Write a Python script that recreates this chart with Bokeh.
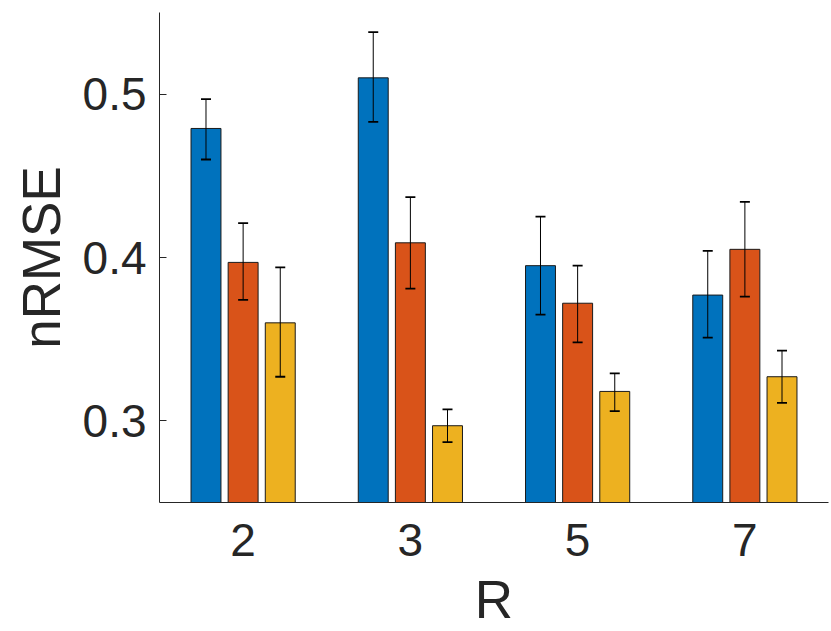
from bokeh.plotting import figure
from bokeh.models import ColumnDataSource, FixedTicker, Range1d
from bokeh.embed import file_html
from bokeh.resources import INLINE

categories = ["2", "3", "5", "7"]
series_names = ["A", "B", "C"]
colors = ["#0072BD", "#D95319", "#EDB120"]

means_a = [0.479, 0.510, 0.395, 0.377]
lower_a = [0.460, 0.483, 0.365, 0.351]
upper_a = [0.497, 0.538, 0.425, 0.404]

means_b = [0.397, 0.409, 0.372, 0.405]
lower_b = [0.374, 0.381, 0.348, 0.376]
upper_b = [0.421, 0.437, 0.395, 0.434]

means_c = [0.360, 0.297, 0.318, 0.327]
lower_c = [0.327, 0.287, 0.306, 0.311]
upper_c = [0.394, 0.307, 0.329, 0.343]

y_ticks = [0.3, 0.4, 0.5]

series = [(means_a, lower_a, upper_a), (means_b, lower_b, upper_b), (means_c, lower_c, upper_c)]
offsets = [-0.222, 0.0, 0.222]
bar_w = 0.179

p = figure(width=831, height=631, output_backend="svg", toolbar_location=None,
           x_range=Range1d(0.5, 4.5), y_range=Range1d(0.25, 0.55),
           min_border_left=159, min_border_right=3, min_border_top=12, min_border_bottom=129)

txt = "#262626"
font = "Liberation Sans"

sources = []
for (m, lo, hi), off, col in zip(series, offsets, colors):
    xs = [i + 1 + off for i in range(len(categories))]
    src = ColumnDataSource(dict(x=xs, top=m, lower=lo, upper=hi))
    sources.append(src)
    p.vbar(x="x", top="top", bottom=0.25, width=bar_w, source=src,
           fill_color=col, line_color="#1a1a1a", line_width=1)

for src in sources:
    p.segment(x0="x", y0="lower", x1="x", y1="upper", source=src,
              line_color="black", line_width=1)
    p.scatter(x="x", y="lower", source=src, marker="dash", size=10,
              line_color="black", line_width=1.8)
    p.scatter(x="x", y="upper", source=src, marker="dash", size=10,
              line_color="black", line_width=1.8)

p.xgrid.visible = False
p.ygrid.visible = False
p.outline_line_color = None

p.xaxis.ticker = FixedTicker(ticks=[1, 2, 3, 4])
p.xaxis.major_label_overrides = {i + 1: c for i, c in enumerate(categories)}
p.yaxis.ticker = FixedTicker(ticks=y_ticks)

for ax in (p.xaxis, p.yaxis):
    ax.axis_line_color = txt
    ax.axis_line_width = 1
    ax.major_tick_line_color = txt
    ax.major_tick_out = 0
    ax.minor_tick_line_color = None
    ax.major_label_text_font = font
    ax.major_label_text_font_size = "46px"
    ax.major_label_text_color = txt
    ax.axis_label_text_font = font
    ax.axis_label_text_font_size = "53px"
    ax.axis_label_text_color = txt
    ax.axis_label_text_font_style = "normal"

p.xaxis.major_tick_in = 0
p.yaxis.major_tick_in = 7
p.xaxis.major_label_standoff = 21
p.yaxis.major_label_standoff = 13
p.xaxis.axis_label = "R"
p.yaxis.axis_label = "nRMSE"
p.xaxis.axis_label_standoff = 11
p.yaxis.axis_label_standoff = 9

open("out.html", "w").write(file_html(p, INLINE))
